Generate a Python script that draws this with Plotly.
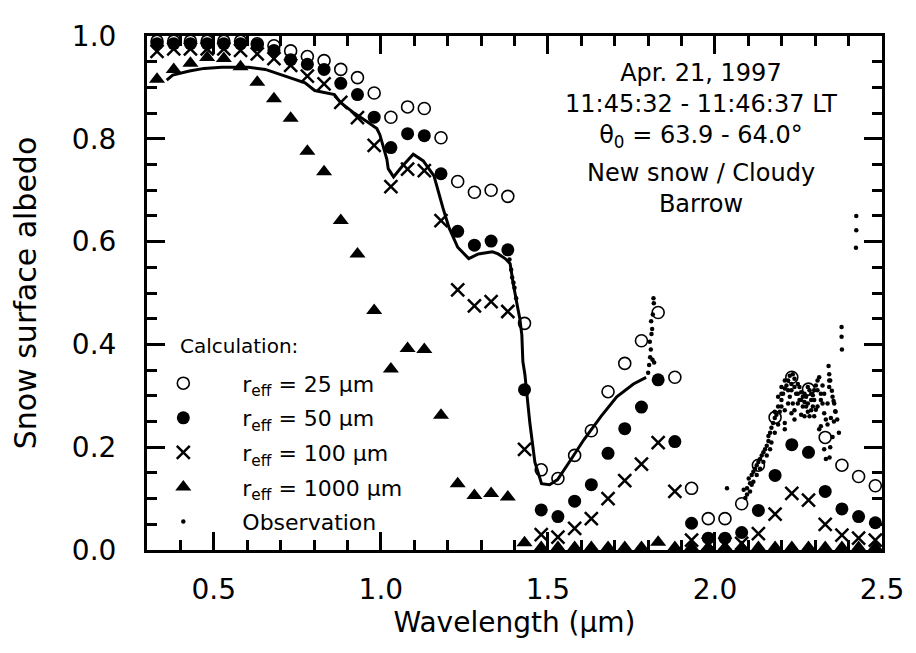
import plotly.graph_objects as go

# ---------------- data ----------------
wavelength_calc = [0.33, 0.38, 0.43, 0.48, 0.53, 0.58, 0.63, 0.68, 0.73, 0.78,
                   0.83, 0.88, 0.93, 0.98, 1.03, 1.08, 1.13, 1.18, 1.23, 1.28,
                   1.33, 1.38, 1.43, 1.48, 1.53, 1.58, 1.63, 1.68, 1.73, 1.78,
                   1.83, 1.88, 1.93, 1.98, 2.03, 2.08, 2.13, 2.18, 2.23, 2.28,
                   2.33, 2.38, 2.43, 2.48]

albedo_r25 = [0.990, 0.990, 0.990, 0.990, 0.990, 0.990, 0.985, 0.981, 0.971, 0.960,
              0.952, 0.935, 0.919, 0.889, 0.842, 0.862, 0.859, 0.802, 0.717, 0.696,
              0.700, 0.688, 0.441, 0.156, 0.139, 0.184, 0.232, 0.308, 0.363, 0.407,
              0.462, 0.336, 0.120, 0.061, 0.061, 0.090, 0.165, 0.258, 0.336, 0.313,
              0.219, 0.165, 0.143, 0.125]

albedo_r50 = [0.985, 0.985, 0.985, 0.985, 0.985, 0.985, 0.983, 0.972, 0.954, 0.945,
              0.935, 0.908, 0.886, 0.842, 0.783, 0.810, 0.806, 0.732, 0.620, 0.593,
              0.601, 0.584, 0.312, 0.078, 0.065, 0.095, 0.127, 0.188, 0.236, 0.278,
              0.331, 0.211, 0.052, 0.023, 0.023, 0.034, 0.077, 0.145, 0.205, 0.190,
              0.114, 0.080, 0.065, 0.053]

albedo_r100 = [0.970, 0.975, 0.975, 0.975, 0.975, 0.972, 0.965, 0.956, 0.943, 0.922,
               0.907, 0.871, 0.841, 0.787, 0.707, 0.741, 0.738, 0.641, 0.506, 0.475,
               0.483, 0.464, 0.196, 0.030, 0.025, 0.042, 0.061, 0.100, 0.135, 0.167,
               0.209, 0.114, 0.019, 0.012, 0.012, 0.013, 0.032, 0.070, 0.110, 0.097,
               0.050, 0.029, 0.023, 0.019]

albedo_r1000 = [0.916, 0.935, 0.947, 0.958, 0.956, 0.940, 0.910, 0.878, 0.840, 0.776,
                0.736, 0.641, 0.576, 0.466, 0.352, 0.392, 0.390, 0.262, 0.129, 0.106,
                0.110, 0.103, 0.014, 0.005, 0.005, 0.005, 0.005, 0.005, 0.005, 0.005,
                0.015, 0.005, 0.005, 0.005, 0.005, 0.005, 0.005, 0.005, 0.005, 0.005,
                0.005, 0.005, 0.005, 0.005]

# observation: densely sampled part (appears as a solid curve)
obs_line_wl = [0.359, 0.377, 0.427, 0.471, 0.524, 0.604, 0.654, 0.713, 0.773, 0.802,
               0.832, 0.861, 0.879, 0.920, 0.959, 0.988, 0.997, 1.018, 1.022, 1.038,
               1.062, 1.097, 1.127, 1.159, 1.186, 1.204, 1.230, 1.263, 1.292, 1.334,
               1.351, 1.372, 1.387, 1.396, 1.410, 1.416, 1.422, 1.425, 1.431, 1.446,
               1.461, 1.481, 1.505, 1.529, 1.570, 1.608, 1.659, 1.706, 1.756, 1.794]
obs_line_alb = [0.914, 0.924, 0.932, 0.937, 0.939, 0.939, 0.935, 0.922, 0.909, 0.894,
                0.890, 0.886, 0.871, 0.850, 0.833, 0.820, 0.808, 0.760, 0.742, 0.726,
                0.745, 0.770, 0.757, 0.728, 0.665, 0.627, 0.589, 0.567, 0.576, 0.580,
                0.576, 0.567, 0.557, 0.519, 0.470, 0.450, 0.418, 0.367, 0.342, 0.247,
                0.171, 0.129, 0.127, 0.137, 0.177, 0.215, 0.260, 0.298, 0.323, 0.336]

# observation: individually visible samples
obs_dots_wl = [1.385, 1.390, 1.393, 1.397, 1.400, 1.405,
               1.800, 1.803, 1.806, 1.808, 1.805, 1.810, 1.812, 1.809, 1.814, 1.817,
               1.816, 1.813, 1.818,
               2.036,
               2.086, 2.091, 2.096, 2.096, 2.101, 2.105, 2.110, 2.110, 2.115, 2.120,
               2.125, 2.130, 2.135, 2.140, 2.145, 2.150, 2.155, 2.160, 2.160, 2.165,
               2.169, 2.174, 2.179, 2.184, 2.189, 2.194, 2.199, 2.199, 2.199, 2.204,
               2.209, 2.209, 2.209, 2.214, 2.219, 2.224, 2.224, 2.229, 2.233, 2.233,
               2.238, 2.238, 2.243, 2.248, 2.253, 2.253, 2.258, 2.258, 2.263, 2.263,
               2.268, 2.273, 2.273, 2.278, 2.283, 2.283, 2.288, 2.293, 2.293, 2.297,
               2.302, 2.302, 2.307, 2.312, 2.312, 2.317, 2.317, 2.322, 2.327, 2.327,
               2.332, 2.332, 2.337, 2.340, 2.342, 2.342, 2.342, 2.343, 2.345, 2.345,
               2.347, 2.350, 2.352, 2.352, 2.355, 2.356, 2.357, 2.360, 2.361, 2.366,
               2.371,
               2.199, 2.209, 2.219, 2.229, 2.238, 2.248, 2.258, 2.268, 2.278, 2.288,
               2.297, 2.307, 2.317, 2.327, 2.337, 2.248, 2.238, 2.278, 2.288, 2.297,
               2.219, 2.209, 2.229, 2.268, 2.307, 2.322, 2.189, 2.179,
               2.105, 2.115, 2.125, 2.135, 2.145, 2.155, 2.165, 2.169, 2.179, 2.189,
               2.379, 2.379, 2.380, 2.423, 2.423, 2.422]
obs_dots_alb = [0.565, 0.545, 0.530, 0.520, 0.510, 0.490,
                0.345, 0.360, 0.375, 0.390, 0.405, 0.420, 0.430, 0.445, 0.458, 0.480,
                0.490, 0.370, 0.365,
                0.120,
                0.117, 0.101, 0.120, 0.108, 0.139, 0.130, 0.146, 0.127, 0.152, 0.158,
                0.165, 0.171, 0.177, 0.184, 0.190, 0.196, 0.203, 0.212, 0.222, 0.228,
                0.238, 0.247, 0.257, 0.263, 0.298, 0.269, 0.279, 0.292, 0.304, 0.304,
                0.314, 0.247, 0.235, 0.320, 0.330, 0.339, 0.298, 0.311, 0.342, 0.285,
                0.333, 0.254, 0.304, 0.323, 0.317, 0.292, 0.307, 0.263, 0.298, 0.279,
                0.288, 0.279, 0.298, 0.269, 0.260, 0.311, 0.292, 0.301, 0.279, 0.311,
                0.320, 0.273, 0.330, 0.336, 0.235, 0.304, 0.241, 0.285, 0.266, 0.196,
                0.254, 0.177, 0.244, 0.358, 0.342, 0.330, 0.317, 0.180, 0.330, 0.200,
                0.257, 0.310, 0.298, 0.220, 0.290, 0.250, 0.285, 0.270, 0.269, 0.254,
                0.228,
                0.317, 0.330, 0.311, 0.323, 0.317, 0.304, 0.292, 0.304, 0.317, 0.304,
                0.292, 0.279, 0.292, 0.304, 0.285, 0.285, 0.272, 0.285, 0.272, 0.260,
                0.285, 0.272, 0.266, 0.260, 0.311, 0.320, 0.279, 0.269,
                0.114, 0.133, 0.146, 0.158, 0.171, 0.184, 0.196, 0.209, 0.228, 0.244,
                0.434, 0.415, 0.390, 0.650, 0.622, 0.588]

FONT = "DejaVu Sans"

fig = go.Figure()

fig.add_trace(go.Scatter(
    x=obs_line_wl, y=obs_line_alb, mode="lines",
    line=dict(color="black", width=3), showlegend=False, hoverinfo="skip"))

fig.add_trace(go.Scatter(
    x=wavelength_calc, y=albedo_r25, mode="markers", name="r<sub>eff</sub> = 25 µm",
    legendgroup="g1",
    marker=dict(symbol="circle-open", size=12, color="black",
                line=dict(width=1.6, color="black")), cliponaxis=False))
fig.add_trace(go.Scatter(
    x=wavelength_calc, y=albedo_r50, mode="markers", name="r<sub>eff</sub> = 50 µm",
    legendgroup="g2",
    marker=dict(symbol="circle", size=13, color="black"), cliponaxis=False))
fig.add_trace(go.Scatter(
    x=wavelength_calc, y=albedo_r100, mode="markers", name="r<sub>eff</sub> = 100 µm",
    legendgroup="g3",
    marker=dict(symbol="x-thin", size=13, color="black",
                line=dict(width=2.5, color="black")), cliponaxis=False))
fig.add_trace(go.Scatter(
    x=wavelength_calc, y=albedo_r1000, mode="markers", name="r<sub>eff</sub> = 1000 µm",
    legendgroup="g4",
    marker=dict(symbol="triangle-up", size=14, color="black"), cliponaxis=False))
fig.add_trace(go.Scatter(
    x=obs_dots_wl, y=obs_dots_alb, mode="markers", name="Observation",
    legendgroup="g5",
    marker=dict(symbol="circle", size=4.5, color="black"), cliponaxis=False))

axis_common = dict(
    showline=True, linewidth=3, linecolor="black", mirror="allticks",
    ticks="inside", ticklen=18, tickwidth=2.5, tickcolor="black",
    showgrid=False, zeroline=False, ticklabeloverflow="allow",
    tickfont=dict(family=FONT, size=28, color="black"),
)

ANN_X = 0.754
ANN_SIZE = 24

fig.update_layout(
    width=908, height=645,
    margin=dict(l=139, r=24, t=16, b=103),
    paper_bgcolor="white", plot_bgcolor="white",
    font=dict(family=FONT, color="black"),
    xaxis=dict(
        range=[0.3, 2.5], tick0=0, dtick=0.5, tickformat=".1f",
        minor=dict(dtick=0.1, ticklen=10, tickwidth=2.5, tickcolor="black",
                   ticks="inside", showgrid=False),
        ticklabelstandoff=12,
        title=dict(text="Wavelength (µm)", font=dict(family=FONT, size=28), standoff=6),
        **axis_common),
    yaxis=dict(
        range=[0, 1.0], tick0=0, dtick=0.2, tickformat=".1f",
        minor=dict(dtick=0.05, ticklen=10, tickwidth=2.5, tickcolor="black",
                   ticks="inside", showgrid=False),
        ticklabelstandoff=22,
        title=dict(text="Snow surface albedo", font=dict(family=FONT, size=30), standoff=30),
        **axis_common),
    legend=dict(
        x=(124 - 147) / 745, y=(550 - 358) / 526, xanchor="left", yanchor="top",
        bgcolor="rgba(0,0,0,0)", borderwidth=0,
        font=dict(family=FONT, size=22, color="black"),
        itemwidth=108, tracegroupgap=3, traceorder="grouped",
    ),
    annotations=[
        dict(text="Calculation:", x=(178 - 147) / 745, y=(550 - 341) / 526,
             xref="paper", yref="paper", xanchor="left", yanchor="middle",
             showarrow=False, font=dict(family=FONT, size=20)),
        dict(text="Apr. 21, 1997<br>11:45:32 - 11:46:37 LT<br>θ<sub>0</sub> = 63.9 - 64.0°",
             x=ANN_X, y=(550 - 95) / 526, xref="paper", yref="paper",
             xanchor="center", yanchor="middle", align="center", showarrow=False,
             font=dict(family=FONT, size=ANN_SIZE)),
        dict(text="New snow / Cloudy<br>Barrow",
             x=ANN_X, y=(550 - 180) / 526, xref="paper", yref="paper",
             xanchor="center", yanchor="middle", align="center", showarrow=False,
             font=dict(family=FONT, size=ANN_SIZE)),
    ],
)

fig.write_html("out.html")
